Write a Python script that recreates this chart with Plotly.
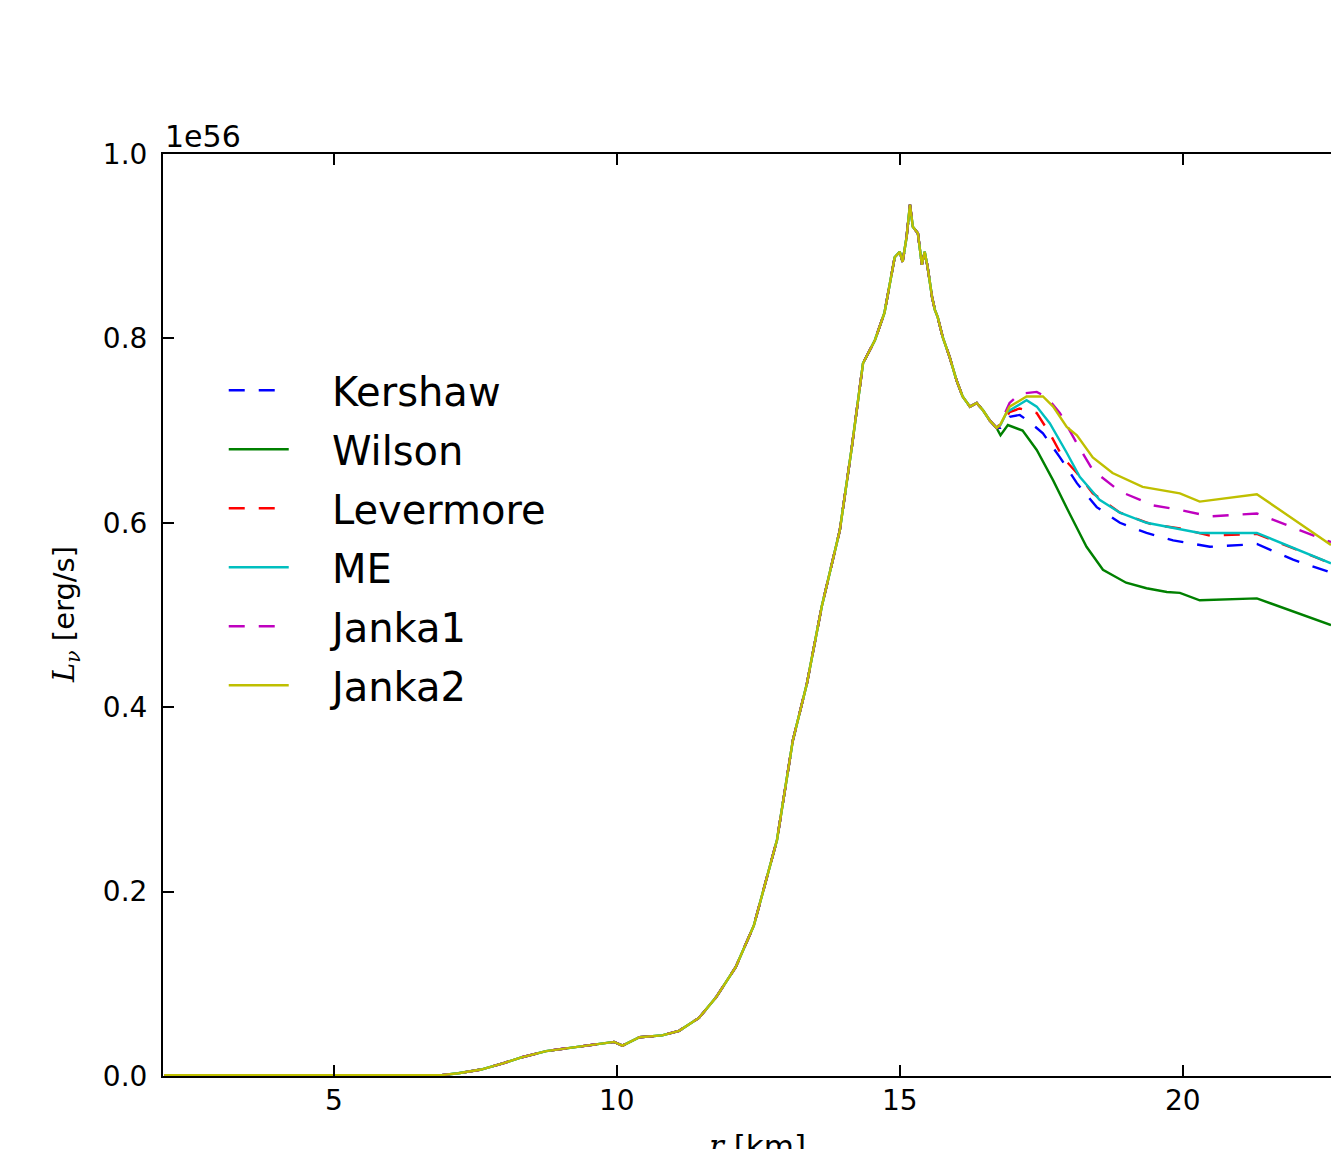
import plotly.graph_objects as go

# Common part of all curves (identical for all closures up to r ~ 16.7 km), units of 1e56 erg/s
r_common = [2.0, 3.0, 4.0, 5.0, 6.0, 6.9, 7.2, 7.6, 8.0, 8.3, 8.75, 9.2, 9.7, 9.95, 10.1, 10.4,
            10.8, 11.1, 11.45, 11.75, 12.1, 12.42, 12.83, 13.11, 13.36, 13.62, 13.94, 14.15,
            14.35, 14.56, 14.73, 14.82, 14.91, 15.0, 15.05, 15.12, 15.18, 15.23, 15.32, 15.39,
            15.44, 15.49, 15.57, 15.62, 15.67, 15.76, 15.88, 16.0, 16.11, 16.24, 16.36, 16.47,
            16.59, 16.71]
L_common = [0.001, 0.001, 0.001, 0.001, 0.001, 0.001, 0.003, 0.007, 0.014, 0.020, 0.027, 0.031,
            0.035, 0.037, 0.033, 0.042, 0.044, 0.049, 0.063, 0.085, 0.118, 0.163, 0.256, 0.364,
            0.426, 0.509, 0.592, 0.681, 0.773, 0.798, 0.828, 0.856, 0.888, 0.894, 0.883, 0.910,
            0.945, 0.921, 0.914, 0.880, 0.894, 0.878, 0.845, 0.831, 0.823, 0.801, 0.780, 0.755,
            0.737, 0.726, 0.730, 0.722, 0.711, 0.703]

# Tails after the curves separate
r_kershaw = [16.78, 16.94, 17.12, 17.3, 17.53, 17.83, 18.13, 18.48, 18.89, 19.36, 19.83, 20.48, 21.31, 21.95, 22.62]
L_kershaw = [0.703, 0.715, 0.717, 0.709, 0.697, 0.671, 0.643, 0.617, 0.600, 0.589, 0.581, 0.574, 0.577, 0.560, 0.546]

r_wilson = [16.78, 16.91, 17.17, 17.42, 17.71, 18.0, 18.3, 18.59, 19.0, 19.36, 19.72, 19.95, 20.3, 21.31, 22.62]
L_wilson = [0.695, 0.706, 0.700, 0.679, 0.646, 0.610, 0.574, 0.549, 0.535, 0.529, 0.525, 0.524, 0.516, 0.518, 0.489]

r_levermore = [16.78, 16.94, 17.12, 17.42, 17.65, 17.88, 18.13, 18.41, 18.89, 19.47, 19.95, 20.48, 21.31, 22.62]
L_levermore = [0.705, 0.720, 0.724, 0.719, 0.697, 0.671, 0.654, 0.632, 0.611, 0.598, 0.594, 0.586, 0.588, 0.556]

r_me = [16.78, 16.89, 17.24, 17.42, 17.65, 17.95, 18.18, 18.53, 18.89, 19.36, 19.89, 20.3, 21.31, 21.95, 22.62]
L_me = [0.706, 0.720, 0.733, 0.726, 0.708, 0.676, 0.650, 0.625, 0.611, 0.600, 0.594, 0.589, 0.589, 0.573, 0.556]

r_janka1 = [16.78, 16.94, 17.12, 17.42, 17.6, 17.83, 18.13, 18.41, 18.89, 19.47, 19.95, 20.48, 21.31, 22.62]
L_janka1 = [0.708, 0.730, 0.740, 0.742, 0.736, 0.719, 0.686, 0.657, 0.634, 0.619, 0.614, 0.607, 0.610, 0.579]

r_janka2 = [16.78, 16.94, 17.24, 17.53, 17.71, 17.95, 18.13, 18.41, 18.76, 19.29, 19.95, 20.3, 21.31, 22.62]
L_janka2 = [0.707, 0.726, 0.737, 0.737, 0.726, 0.704, 0.695, 0.671, 0.654, 0.639, 0.632, 0.623, 0.631, 0.576]

names = ["Kershaw", "Wilson", "Levermore", "ME", "Janka1", "Janka2"]
colors = ["#0000ff", "#008000", "#ff0000", "#00bfbf", "#bf00bf", "#bfbf00"]
dashes = ["16px,14px", "solid", "16px,14px", "solid", "16px,14px", "solid"]
tails = [(r_kershaw, L_kershaw), (r_wilson, L_wilson), (r_levermore, L_levermore),
         (r_me, L_me), (r_janka1, L_janka1), (r_janka2, L_janka2)]

x_ticks = [5, 10, 15, 20]
y_ticks = [0.0, 0.2, 0.4, 0.6, 0.8, 1.0]

LEGEND_PAD = "\u00a0" * 3  # gap between legend line sample and label

fig = go.Figure()
for name, col, dash, (rt, Lt) in zip(names, colors, dashes, tails):
    fig.add_trace(go.Scatter(
        x=r_common + rt, y=L_common + Lt, mode="lines", name=LEGEND_PAD + name,
        legendgroup=name,
        line=dict(color=col, width=2.4, dash=dash),
    ))

W, H = 1331, 1149
ML, MR, MT, MB = 163, 0, 154, 73
fig.update_layout(
    width=W, height=H,
    margin=dict(l=ML, r=MR, t=MT, b=MB, pad=0),
    paper_bgcolor="white", plot_bgcolor="white",
    font=dict(family="DejaVu Sans", size=28, color="black"),
    showlegend=True,
    legend=dict(
        x=0.052, y=0.779, xanchor="left", yanchor="top",
        bgcolor="rgba(0,0,0,0)", borderwidth=0,
        font=dict(family="DejaVu Sans", size=40, color="black"),
        tracegroupgap=4, itemwidth=60,
    ),
    xaxis=dict(
        range=[1.98, 22.62], tickvals=x_ticks, ticktext=[str(v) for v in x_ticks],
        ticks="inside", ticklen=11, tickwidth=1.5, tickcolor="black",
        showline=True, linecolor="black", linewidth=2, mirror="ticks",
        showgrid=False, zeroline=False, ticklabelstandoff=-2,
        tickfont=dict(size=28, family="DejaVu Sans"),
    ),
    yaxis=dict(
        range=[0, 1.0], tickvals=y_ticks, ticktext=["%.1f" % v for v in y_ticks],
        ticks="inside", ticklen=11, tickwidth=1.5, tickcolor="black",
        showline=True, linecolor="black", linewidth=2, mirror=False,
        showgrid=False, zeroline=False, ticklabelstandoff=8,
        tickfont=dict(size=28, family="DejaVu Sans"),
    ),
    annotations=[
        dict(text="1e56", xref="paper", yref="paper", x=0, y=1, xanchor="left",
             yanchor="bottom", showarrow=False, font=dict(size=30), xshift=0, yshift=-2),
        dict(text='<span style="font-family:DejaVu Serif"><i>L</i><sub><i>ν</i></sub></span> [erg/s]',
             xref="paper", yref="paper", x=0, y=0.5, xanchor="center", yanchor="middle",
             textangle=-90, showarrow=False, font=dict(size=29), xshift=-97),
        dict(text='<span style="font-family:DejaVu Serif"><i>r</i></span> [km]',
             xref="paper", yref="paper", x=(757 - ML) / (W - ML - MR), y=0,
             xanchor="center", yanchor="top", showarrow=False, font=dict(size=31), yshift=-50),
    ],
)

fig.write_html("out.html")
